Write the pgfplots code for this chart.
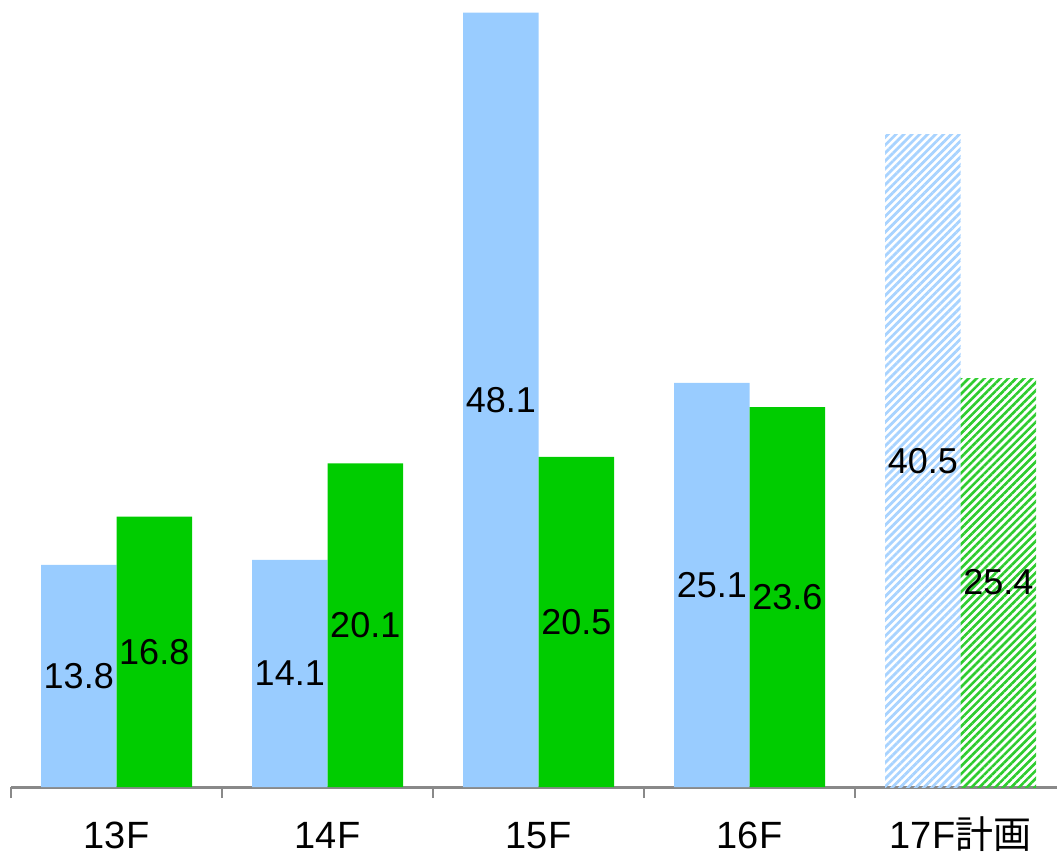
\documentclass[border=0pt]{standalone}
\usepackage{fontspec}
\setmainfont{Liberation Sans}
\newfontfamily\cjk{Noto Sans CJK JP}
\usepackage{pgfplots}
\pgfplotsset{compat=1.18}
\usetikzlibrary{patterns.meta}

\definecolor{barblue}{HTML}{99CCFF}
\definecolor{bargreen}{HTML}{00CC00}
\definecolor{hatchblue}{HTML}{A8D3FF}
\definecolor{hatchgreen}{HTML}{2ECC2E}
\definecolor{axisgray}{HTML}{898989}

\begin{document}
\begin{tikzpicture}
\begin{axis}[
  name=ax,
  scale only axis,
  width=523pt, height=393.5pt,
  xmin=-0.5, xmax=4.457,
  ymin=0, ymax=48.88,
  axis x line*=bottom,
  axis y line=none,
  x axis line style={draw=axisgray, line width=1.5pt},
  xtick={0,1,2,3,4},
  xticklabels={13F,14F,15F,16F,{17F{\cjk 計画}}},
  major tick length=0pt,
  minor xtick={-0.5,0.5,1.5,2.5,3.5},
  minor tick length=5.5pt,
  tick align=outside,
  minor tick style={axisgray, line width=1pt},
  xticklabel style={font=\fontsize{19}{21}\selectfont, anchor=base, yshift=-30.5pt},
  ytick=\empty,
  ybar,
  bar width=37.75pt,
  nodes near coords,
  /pgf/number format/.cd, fixed, fixed zerofill, precision=1, assume math mode=true,
  /pgfplots/.cd,
  visualization depends on={y \as \rawy},
  every node near coord/.append style={font=\fontsize{18}{20}\selectfont, black,
    anchor=center, shift={(axis direction cs:0,-\rawy/2)}},
]
% solid bars, 13F-16F
\addplot[draw=none, fill=barblue, bar shift=-18.875pt]
  coordinates {(0,13.8) (1,14.1) (2,48.1) (3,25.1)};
\addplot[draw=none, fill=bargreen, bar shift=18.875pt]
  coordinates {(0,16.8) (1,20.1) (2,20.5) (3,23.6)};
% plan, 17F
\addplot[draw=none, pattern={Lines[angle=45, distance=2.8pt, line width=1.4pt]},
  pattern color=hatchblue, bar shift=-18.875pt]
  coordinates {(4,40.5)};
\addplot[draw=none, pattern={Lines[angle=45, distance=2.8pt, line width=1.3pt]},
  pattern color=hatchgreen, bar shift=18.875pt]
  coordinates {(4,25.4)};
\end{axis}
\pgfresetboundingbox
\path (ax.south west) ++(-5.5pt,-34.5pt) rectangle (ax.north east);
\end{tikzpicture}
\end{document}
